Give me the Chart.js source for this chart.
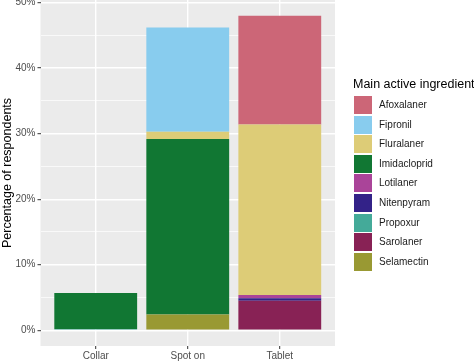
<!DOCTYPE html>
<html>
<head>
  <meta charset="UTF-8">
  <title>Main active ingredient by product type</title>
  <script src="https://cdn.jsdelivr.net/npm/chart.js"></script>
  <style>
    body {
      margin: 0;
      background: #fff;
      font-family: "Liberation Sans", Arial, sans-serif;
    }
    #wrap {
      position: relative;
      width: 474px;
      height: 362px;
      overflow: hidden;
    }
    #legend {
      position: absolute;
      left: 353px;
      top: 76px;
      white-space: nowrap;
    }
    #legend .title {
      font-size: 12.5px;
      line-height: 16px;
      color: #000;
    }
    #legend .item {
      position: absolute;
      left: 1px;
      height: 18px;
    }
    #legend .box {
      position: absolute;
      left: 0;
      top: 0;
      width: 18px;
      height: 18px;
    }
    #legend .label {
      position: absolute;
      left: 25px;
      top: 0;
      font-size: 10px;
      line-height: 18px;
      color: #1a1a1a;
    }
  </style>
</head>
<body>
  <div id="wrap">
    <canvas id="chart"></canvas>
    <div id="legend"><div class="title">Main active ingredient</div></div>
  </div>
  <script>
    // categories on the x axis
    const categories = ['Collar', 'Spot on', 'Tablet'];

    // legend order (top of stack first, like ggplot)
    const ingredients = ['Afoxalaner', 'Fipronil', 'Fluralaner', 'Imidacloprid', 'Lotilaner',
                         'Nitenpyram', 'Propoxur', 'Sarolaner', 'Selamectin'];

    // share of respondents (%) per category: Collar, Spot on, Tablet
    const afoxalaner   = [0, 0, 16.6];
    const fipronil     = [0, 15.9, 0];
    const fluralaner   = [0, 1.1, 26.0];
    const imidacloprid = [5.5, 26.8, 0];
    const lotilaner    = [0, 0, 0.5];
    const nitenpyram   = [0, 0, 0.4];
    const propoxur     = [0.2, 0, 0];
    const sarolaner    = [0, 0, 4.5];
    const selamectin   = [0, 2.4, 0];

    const yTicks = [0, 5, 10, 15, 20, 25, 30, 35, 40, 45, 50];

    const seriesValues = [afoxalaner, fipronil, fluralaner, imidacloprid, lotilaner,
                          nitenpyram, propoxur, sarolaner, selamectin];
    const colors = ['#CC6677', '#88CCEE', '#DDCC77', '#117733', '#AA4499',
                    '#332288', '#44AA99', '#882255', '#999933'];

    // Chart.js stacks the first dataset at the bottom, so feed them reversed
    const datasets = ingredients.map((name, i) => ({
      label: name,
      data: seriesValues[i].map((v, j) => ({ x: j, y: v })),
      backgroundColor: colors[i],
      borderWidth: 0,
      barPercentage: 0.9,
      categoryPercentage: 1.0
    })).reverse();

    // grey panel behind the grid
    const panelBg = {
      id: 'panelBg',
      beforeDraw(chart) {
        const a = chart.chartArea;
        const ctx = chart.ctx;
        ctx.save();
        ctx.fillStyle = '#EBEBEB';
        ctx.fillRect(a.left, a.top, a.right - a.left, a.bottom - a.top);
        ctx.restore();
      }
    };

    const tickFont = { family: '"Liberation Sans", Arial, sans-serif', size: 10 };

    new Chart(document.getElementById('chart'), {
      type: 'bar',
      data: { datasets: datasets },
      options: {
        responsive: true,
        maintainAspectRatio: false,
        animation: false,
        layout: { padding: { left: 0, top: 0, right: 139, bottom: 0 } },
        plugins: {
          legend: { display: false },
          tooltip: { enabled: false }
        },
        scales: {
          x: {
            type: 'linear',
            stacked: true,
            offset: false,
            min: -0.6,
            max: 2.6,
            afterBuildTicks(scale) {
              scale.ticks = categories.map((c, i) => ({ value: i }));
            },
            afterFit(scale) {
              scale.height = 16;
              scale.paddingLeft = 0;
              scale.paddingRight = 0;
            },
            border: { display: false },
            grid: {
              offset: false,
              color: '#FFFFFF',
              lineWidth: 1.4,
              tickColor: '#333333',
              tickLength: 3,
              tickWidth: 1
            },
            ticks: {
              font: tickFont,
              color: '#4D4D4D',
              padding: 1,
              maxRotation: 0,
              callback: v => categories[v]
            }
          },
          y: {
            stacked: true,
            min: -2.4,
            max: 50.4,
            afterBuildTicks(scale) {
              scale.ticks = yTicks.map(v => ({ value: v }));
            },
            afterFit(scale) {
              scale.width = 40.5;
              scale.paddingTop = 0;
              scale.paddingBottom = 0;
            },
            border: { display: false },
            grid: {
              color: '#FFFFFF',
              lineWidth: c => (c.tick && c.tick.value % 10 === 0) ? 1.4 : 0.7,
              tickColor: c => (c.tick && c.tick.value % 10 === 0) ? '#333333' : 'rgba(0,0,0,0)',
              tickLength: 3,
              tickWidth: 1
            },
            ticks: {
              font: tickFont,
              color: '#4D4D4D',
              padding: 2,
              callback: v => (v % 10 === 0 ? v + '%' : '')
            },
            title: {
              display: true,
              text: 'Percentage of respondents',
              color: '#000',
              font: { family: '"Liberation Sans", Arial, sans-serif', size: 12.5 },
              padding: { top: 0, bottom: 0 }
            }
          }
        }
      },
      plugins: [panelBg]
    });

    // legend with square keys, same order as ggplot
    const legend = document.getElementById('legend');
    ingredients.forEach((name, i) => {
      const item = document.createElement('div');
      item.className = 'item';
      item.style.top = (20 + i * 19.6) + 'px';
      const box = document.createElement('div');
      box.className = 'box';
      box.style.background = colors[i];
      const label = document.createElement('div');
      label.className = 'label';
      label.textContent = name;
      item.appendChild(box);
      item.appendChild(label);
      legend.appendChild(item);
    });
  </script>
</body>
</html>
